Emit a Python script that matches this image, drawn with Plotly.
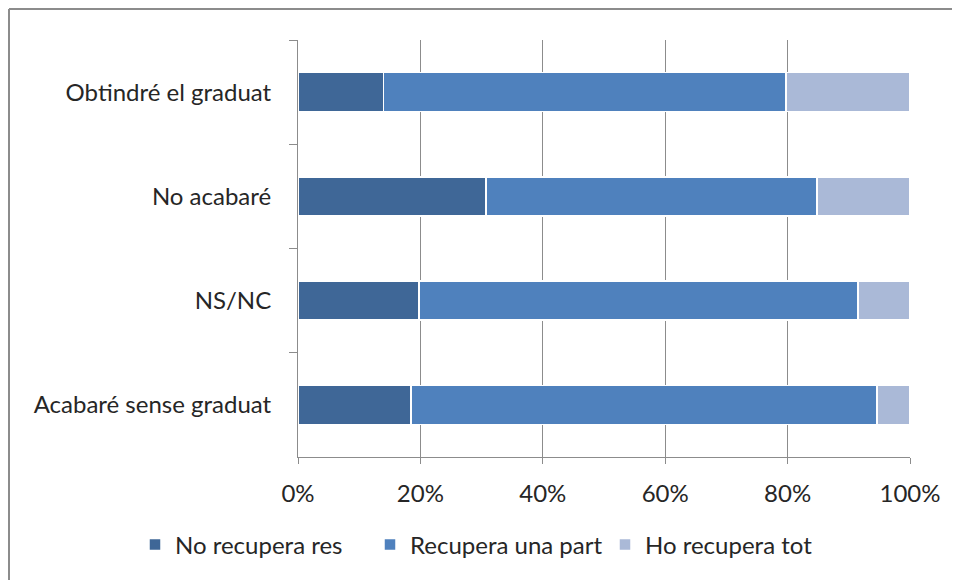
import plotly.graph_objects as go

categories = ["Obtindré el graduat", "No acabaré", "NS/NC", "Acabaré sense graduat"]
no_recupera_res = [14.0, 30.7, 19.8, 18.5]
recupera_una_part = [65.7, 54.1, 71.7, 76.1]
ho_recupera_tot = [20.3, 15.2, 8.5, 5.4]

series = [
    ("No recupera res", no_recupera_res, "#3F6797"),
    ("Recupera una part", recupera_una_part, "#4F81BD"),
    ("Ho recupera tot", ho_recupera_tot, "#AAB9D7"),
]

FONT = "Lato, 'Open Sans', sans-serif"
GRID = "#8C8C8C"

fig = go.Figure()
for name, values, color in series:
    fig.add_trace(go.Bar(
        y=categories, x=values, name=name, orientation="h",
        marker=dict(color=color, line=dict(color="white", width=1.5)),
    ))

# the page body adds an 8px offset, so figure pixels = screen pixels - 8
W, H = 952, 572
L, T = 290, 32
pw, ph = 612, 417
R, B = W - L - pw, H - T - ph

fig.update_layout(
    width=W, height=H,
    barmode="stack", bargap=0.625,
    plot_bgcolor="white", paper_bgcolor="white",
    margin=dict(l=L, r=R, t=T, b=B, autoexpand=False),
    font=dict(family=FONT, size=24, color="#262626"),
    showlegend=True,
    # x < 0 with left anchor lets the legend use the full width on one row
    legend=dict(orientation="h", traceorder="normal",
                x=(127 - L) / pw, xanchor="left", y=(T + ph - 537) / ph, yanchor="middle",
                font=dict(size=24), itemwidth=30,
                entrywidth=190, entrywidthmode="pixels"),
    shapes=[
        dict(type="line", xref="paper", yref="paper",
             x0=(1 - L) / pw, x1=(W - L) / pw, y0=1 + (T - 1) / ph, y1=1 + (T - 1) / ph,
             line=dict(color="#8C8C8C", width=2)),
        dict(type="line", xref="paper", yref="paper",
             x0=(1 - L) / pw, x1=(1 - L) / pw, y0=1 + (T - 1) / ph, y1=-B / ph,
             line=dict(color="#8C8C8C", width=2)),
    ],
)
fig.update_xaxes(
    range=[0, 100], dtick=20, ticksuffix="%",
    showgrid=True, gridcolor=GRID, gridwidth=1,
    showline=True, linecolor=GRID, linewidth=1,
    ticks="outside", ticklen=6, tickcolor=GRID,
    ticklabelstandoff=9, zeroline=False, automargin=False,
)
fig.update_yaxes(
    autorange="reversed", tickson="boundaries",
    showline=True, linecolor=GRID, linewidth=1,
    ticks="outside", ticklen=8, tickcolor=GRID,
    ticklabelstandoff=21, showgrid=False, automargin=False,
)

fig.write_html("out.html")
